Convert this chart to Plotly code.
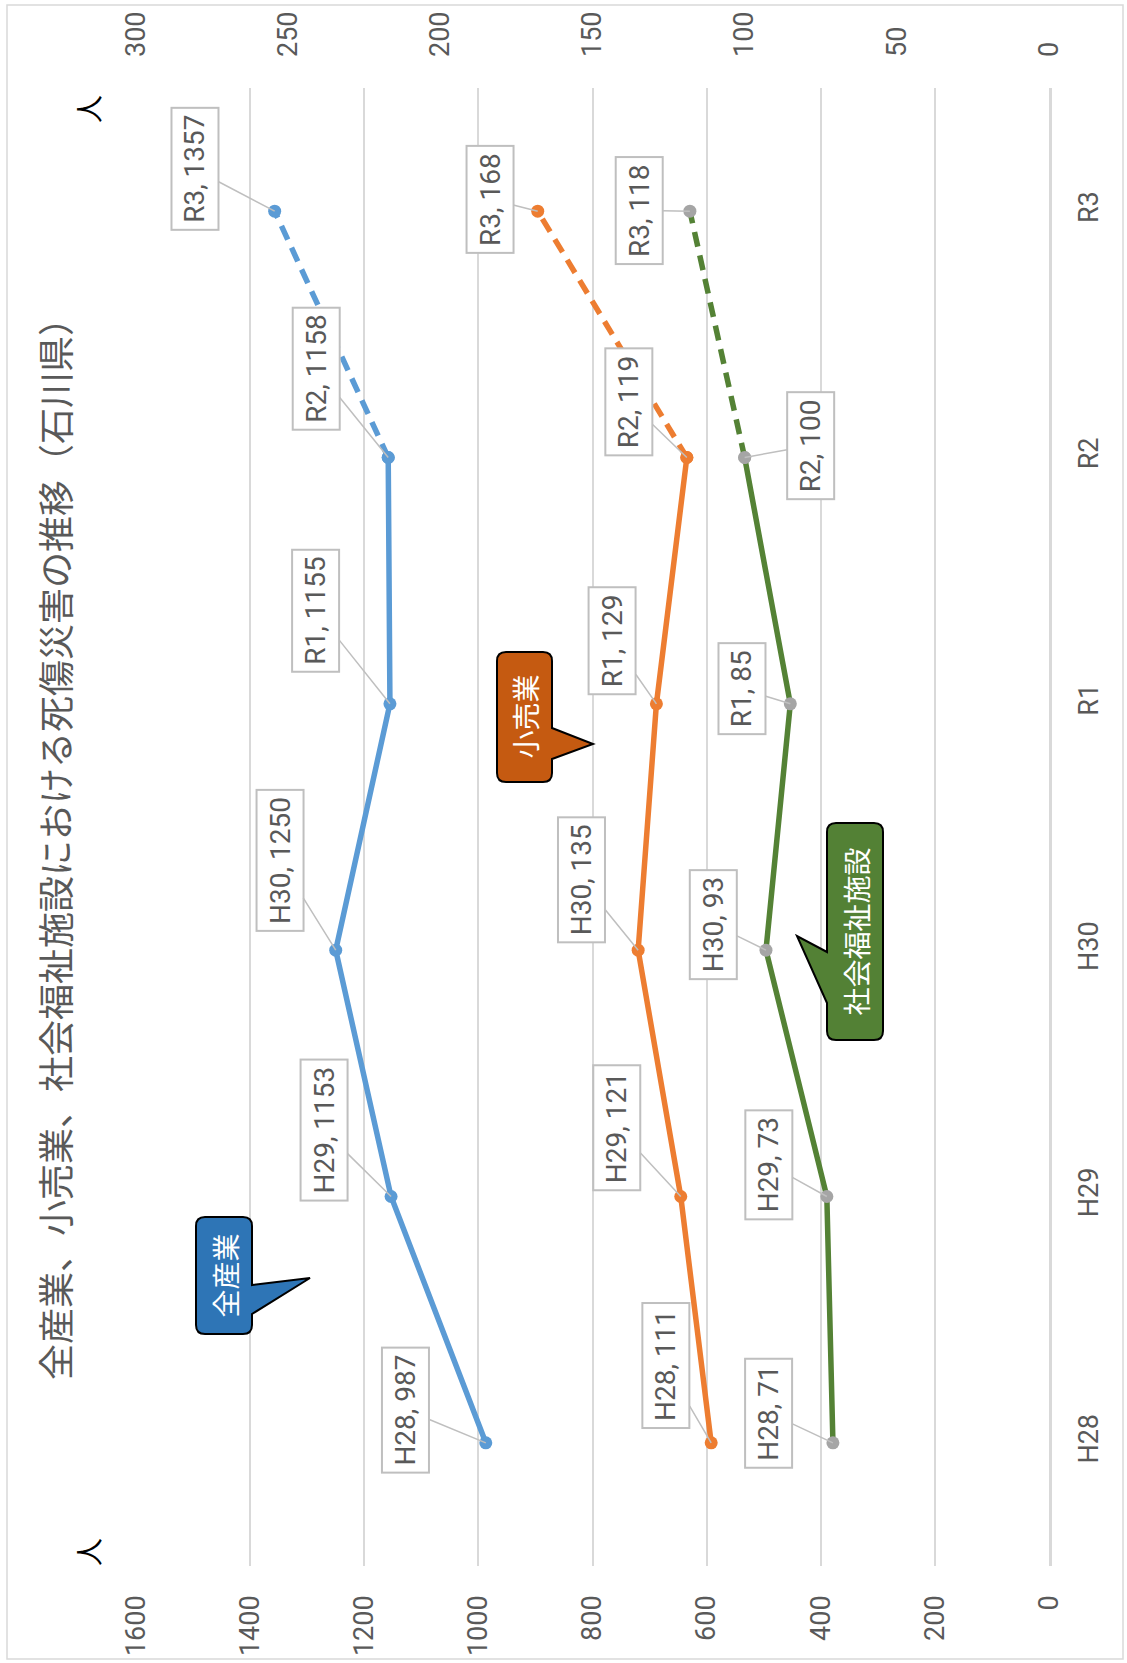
import plotly.graph_objects as go

# ---- data ----
categories = ["H28", "H29", "H30", "R1", "R2", "R3"]
all_industry = [987, 1153, 1250, 1155, 1158, 1357]
retail = [111, 121, 135, 129, 119, 168]
welfare = [71, 73, 93, 85, 100, 118]
primary_ticks = [0, 200, 400, 600, 800, 1000, 1200, 1400, 1600]
secondary_ticks = [0, 50, 100, 150, 200, 250, 300]
title_text = "全産業、小売業、社会福祉施設における死傷災害の推移（石川県）"

# label offsets (pixels) of the data-label boxes
blue_off = [(-80, -33), (-67, -66), (-56, -90), (-74, -93), (-72, -89), (-80, -42)]
orange_off = [(-45, -77), (-64, -69), (-57, -70), (-44, -63), (-58, -56), (-48, -12)]
green_off = [(-64, -30), (-58, -32), (-53, -26), (-48, -15), (66, -12), (-51, -1)]

W, H = 1127, 1663
PL, PR, PT, PB = 136, 1049, 88, 1566


def pxx(x):
    return (x - PL) / (PR - PL)


def pyy(y):
    return (PB - y) / (PB - PT)


NUMFONT = "Roboto, sans-serif"
JPFONT = "Noto Sans CJK JP"
GRAY = "#595959"

BLUE, ORANGE, GREEN, MGRAY = "#5B9BD5", "#ED7D31", "#548235", "#A5A5A5"

fig = go.Figure()


def add_series(vals, color, mcolor, xaxis):
    fig.add_trace(go.Scatter(
        x=vals[:5], y=categories[:5], mode="lines+markers", xaxis=xaxis,
        line=dict(color=color, width=5.5),
        marker=dict(color=mcolor, size=13), showlegend=False, hoverinfo="skip"))
    fig.add_trace(go.Scatter(
        x=vals[4:], y=categories[4:], mode="lines+markers", xaxis=xaxis,
        line=dict(color=color, width=5.5, dash="15px,9px"),
        marker=dict(color=mcolor, size=13), showlegend=False, hoverinfo="skip"))


add_series(all_industry, BLUE, BLUE, "x")
add_series(retail, ORANGE, ORANGE, "x2")
add_series(welfare, GREEN, MGRAY, "x2")

annotations = []


def add_labels(vals, offs, xref):
    for c, v, (ax, ay) in zip(categories, vals, offs):
        annotations.append(dict(
            x=v, y=c, xref=xref, yref="y", text=f"{c}, {v}", textangle=-90,
            showarrow=True, arrowhead=0, arrowwidth=1.5, arrowcolor="#BFBFBF",
            ax=ax, ay=ay, standoff=0,
            font=dict(family=NUMFONT, size=28, color=GRAY),
            bgcolor="white", bordercolor="#BFBFBF", borderwidth=2, borderpad=6))


add_labels(all_industry, blue_off, "x")
add_labels(retail, orange_off, "x2")
add_labels(welfare, green_off, "x2")

# title
annotations.append(dict(
    x=pxx(54), y=pyy(840), xref="paper", yref="paper", text=title_text,
    textangle=-90, showarrow=False, xanchor="center", yanchor="middle",
    font=dict(family=JPFONT, size=36, color=GRAY)))

# units
for yy in (109, 1552):
    annotations.append(dict(
        x=pxx(88), y=pyy(yy), xref="paper", yref="paper", text="人",
        textangle=-90, showarrow=False, xanchor="center", yanchor="middle",
        font=dict(family=JPFONT, size=28, color="black")))

# callouts
shapes = []


def callout(x0, y0, x1, y1, side, b1, b2, tip, fill, text, r=9):
    d = f"M {pxx(x0 + r)},{pyy(y0)} L {pxx(x1 - r)},{pyy(y0)} Q {pxx(x1)},{pyy(y0)} {pxx(x1)},{pyy(y0 + r)} "
    if side == "right":
        d += f"L {pxx(x1)},{pyy(b1)} L {pxx(tip[0])},{pyy(tip[1])} L {pxx(x1)},{pyy(b2)} "
    d += f"L {pxx(x1)},{pyy(y1 - r)} Q {pxx(x1)},{pyy(y1)} {pxx(x1 - r)},{pyy(y1)} "
    d += f"L {pxx(x0 + r)},{pyy(y1)} Q {pxx(x0)},{pyy(y1)} {pxx(x0)},{pyy(y1 - r)} "
    if side == "left":
        d += f"L {pxx(x0)},{pyy(b2)} L {pxx(tip[0])},{pyy(tip[1])} L {pxx(x0)},{pyy(b1)} "
    d += f"L {pxx(x0)},{pyy(y0 + r)} Q {pxx(x0)},{pyy(y0)} {pxx(x0 + r)},{pyy(y0)} Z"
    shapes.append(dict(type="path", path=d, xref="paper", yref="paper",
                       fillcolor=fill, line=dict(color="black", width=2)))
    annotations.append(dict(
        x=pxx((x0 + x1) / 2), y=pyy((y0 + y1) / 2), xref="paper", yref="paper",
        text=text, textangle=-90, showarrow=False,
        xanchor="center", yanchor="middle",
        font=dict(family=JPFONT, size=28, color="white")))


callout(196, 1217, 252, 1334, "right", 1285, 1314, (310, 1278), "#2E75B6", "全産業")
callout(497, 652, 552, 782, "right", 728, 759, (593, 744), "#C55A11", "小売業")
callout(827, 823, 883, 1040, "left", 952, 1003, (797, 936), "#538135", "社会福祉施設")

# outer border
shapes.append(dict(type="rect", xref="paper", yref="paper",
                   x0=pxx(7), x1=pxx(1123), y0=pyy(5), y1=pyy(1659),
                   line=dict(color="#D9D9D9", width=1.5), layer="below"))

fig.update_layout(
    width=W, height=H,
    margin=dict(l=PL, r=W - PR, t=PT, b=H - PB, pad=0, autoexpand=False),
    plot_bgcolor="white", paper_bgcolor="white",
    showlegend=False,
    xaxis=dict(range=[1600, 0], tickvals=primary_ticks, showgrid=True,
               gridcolor="#D9D9D9", gridwidth=1.5, zeroline=False,
               tickangle=-90, ticklabelstandoff=23, automargin=False,
               tickfont=dict(family=NUMFONT, size=27, color=GRAY)),
    xaxis2=dict(range=[300, 0], tickvals=secondary_ticks, overlaying="x",
                side="top", showgrid=False, zeroline=False,
                tickangle=-90, ticklabelstandoff=30, automargin=False,
                tickfont=dict(family=NUMFONT, size=27, color=GRAY)),
    yaxis=dict(type="category", categoryorder="array", categoryarray=categories,
               range=[-0.5, 5.5], side="right", showgrid=False, zeroline=False,
               showline=True, linecolor="#D9D9D9", linewidth=2.5,
               tickangle=-90, ticklabelstandoff=14, automargin=False,
               tickfont=dict(family=NUMFONT, size=27, color=GRAY)),
    annotations=annotations, shapes=shapes,
)

fig.write_html("out.html", config={"displayModeBar": False},
               post_script="document.body.style.margin='0';")
